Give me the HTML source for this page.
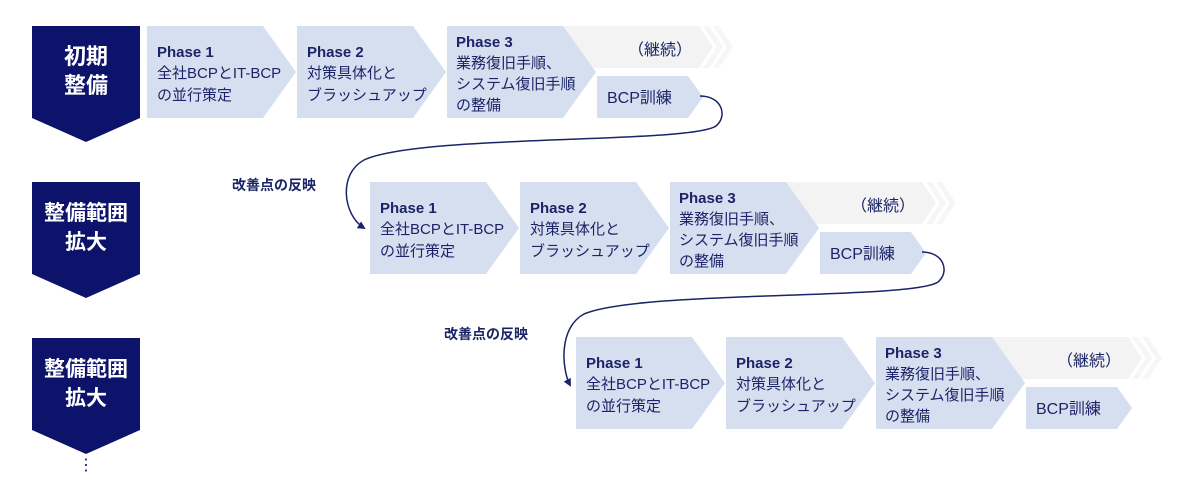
<!DOCTYPE html>
<html><head><meta charset="utf-8"><style>
html,body{margin:0;padding:0;background:#fff;}
svg{display:block;}
text{font-family:"Liberation Sans","Noto Sans CJK JP",sans-serif;fill:#1b2466;}
.b{font-weight:bold;}
</style></head><body>
<svg width="1200" height="488" viewBox="0 0 1200 488" xmlns="http://www.w3.org/2000/svg">
<defs>
<g id="row">
  <polygon points="416,0 552,0 566,21 552,42 416,42" fill="#f3f3f3"/>
  <polygon points="556,0 562,0 576,21 562,42 556,42 570,21" fill="#f6f6f6"/>
  <polygon points="566,0 572,0 586,21 572,42 566,42 580,21" fill="#f6f6f6"/>
  <text x="513" y="29" font-size="16" text-anchor="middle">（継続）</text>
  <polygon points="0,0 116,0 149,46 116,92 0,92" fill="#d6dff0"/>
  <polygon points="150,0 266,0 299,46 266,92 150,92" fill="#d6dff0"/>
  <polygon points="300,0 416,0 449,46 416,92 300,92" fill="#d6dff0"/>
  <polygon points="450,50 541,50 556,71 541,92 450,92" fill="#d6dff0"/>
  <text x="10" y="31" font-size="15" class="b">Phase 1</text>
  <text x="10" y="52" font-size="15">全社BCPとIT-BCP</text>
  <text x="10" y="74" font-size="15">の並行策定</text>
  <text x="160" y="31" font-size="15" class="b">Phase 2</text>
  <text x="160" y="52" font-size="15">対策具体化と</text>
  <text x="160" y="74" font-size="15">ブラッシュアップ</text>
  <text x="309" y="21" font-size="15" class="b">Phase 3</text>
  <text x="309" y="42" font-size="15">業務復旧手順、</text>
  <text x="309" y="63" font-size="15">システム復旧手順</text>
  <text x="309" y="84" font-size="15">の整備</text>
  <text x="460" y="77" font-size="16">BCP訓練</text>
</g>
<marker id="ah" markerWidth="8" markerHeight="8" refX="6" refY="4" orient="auto" markerUnits="userSpaceOnUse">
  <path d="M0,0 L8,4 L0,8 Z" fill="#1b2466"/>
</marker>
</defs>

<polygon points="32,26 140,26 140,118 86,142 32,118" fill="#0d126b"/>
<text x="86" y="64" font-size="22" class="b" text-anchor="middle" style="fill:#fff">初期</text>
<text x="86" y="93" font-size="22" class="b" text-anchor="middle" style="fill:#fff">整備</text>
<polygon points="32,182 140,182 140,274 86,298 32,274" fill="#0d126b"/>
<text x="86" y="220" font-size="21" class="b" text-anchor="middle" style="fill:#fff">整備範囲</text>
<text x="86" y="249" font-size="21" class="b" text-anchor="middle" style="fill:#fff">拡大</text>
<polygon points="32,338 140,338 140,430 86,454 32,430" fill="#0d126b"/>
<text x="86" y="376" font-size="21" class="b" text-anchor="middle" style="fill:#fff">整備範囲</text>
<text x="86" y="405" font-size="21" class="b" text-anchor="middle" style="fill:#fff">拡大</text>
<text x="86" y="470" font-size="16" text-anchor="middle" style="fill:#0d126b">⋮</text>

<use href="#row" x="147" y="26"/>
<use href="#row" x="370" y="182"/>
<use href="#row" x="576" y="337"/>

<path d="M700,96 C722,96 728,116 716,126 C690,144 420,134 364,160 C338,174 343,215 364,228" fill="none" stroke="#1b2466" stroke-width="1.5" marker-end="url(#ah)"/>
<text x="232" y="190" font-size="14" class="b">改善点の反映</text>
<path d="M922,252 C944,252 950,272 938,282 C912,300 640,290 584,314 C558,328 562,370 570,385" fill="none" stroke="#1b2466" stroke-width="1.5" marker-end="url(#ah)"/>
<text x="444" y="339" font-size="14" class="b">改善点の反映</text>
</svg>
</body></html>
